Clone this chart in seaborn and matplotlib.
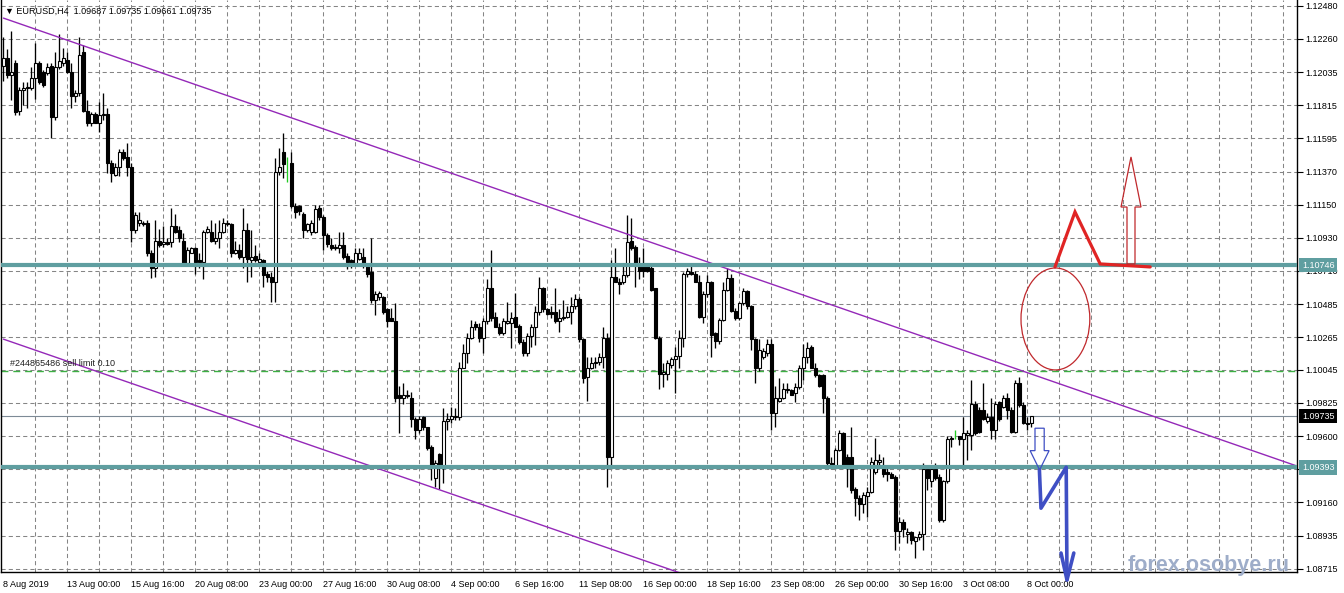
import numpy as np
import pandas as pd
import matplotlib
matplotlib.use('Agg')
import matplotlib.pyplot as plt
import matplotlib.transforms as mtransforms
from matplotlib.patches import Ellipse, FancyArrow
import seaborn as sns

sns.set_style('white')
plt.rcParams['font.family'] = ['Liberation Sans', 'DejaVu Sans']
plt.rcParams['lines.scale_dashes'] = False

# ── DATA: EURUSD H4 candles (bar 0 = 8 Aug 2019) ───────────────────────────
opens = [
    1.1208, 1.1213, 1.1202, 1.1210, 1.1178, 1.1192, 1.1193, 1.1193, 1.1200, 1.1210,
    1.1204, 1.1203, 1.1208, 1.1174, 1.1207, 1.1210, 1.1212, 1.1204, 1.1188, 1.1190,
    1.1217, 1.1178, 1.1170, 1.1176, 1.1170, 1.1175, 1.1176, 1.1143, 1.1135, 1.1140,
    1.1150, 1.1147, 1.1140, 1.1098, 1.1103, 1.1103, 1.1103, 1.1083, 1.1073, 1.1091,
    1.1089, 1.1090, 1.1090, 1.1101, 1.1098, 1.1091, 1.1076, 1.1083, 1.1086, 1.1078,
    1.1077, 1.1097, 1.1097, 1.1091, 1.1093, 1.1097, 1.1102, 1.1102, 1.1083, 1.1085,
    1.1080, 1.1098, 1.1078, 1.1081, 1.1077, 1.1078, 1.1069, 1.1067, 1.1063, 1.1137,
    1.1150, 1.1143, 1.1143, 1.1114, 1.1114, 1.1109, 1.1098, 1.1097, 1.1097, 1.1113,
    1.1107, 1.1095, 1.1088, 1.1087, 1.1086, 1.1088, 1.1081, 1.1078, 1.1076, 1.1079,
    1.1080, 1.1075, 1.1070, 1.1051, 1.1053, 1.1053, 1.1045, 1.1039, 1.1037, 1.0988,
    1.0986, 1.0987, 1.0986, 1.0972, 1.0964, 1.0973, 1.0966, 1.0953, 1.0932, 1.0948,
    1.0940, 1.0970, 1.0972, 1.0973, 1.0973, 1.1006, 1.1016, 1.1026, 1.1035, 1.1033,
    1.1026, 1.1037, 1.1059, 1.1040, 1.1033, 1.1029, 1.1036, 1.1036, 1.1040, 1.1034,
    1.1023, 1.1016, 1.1027, 1.1033, 1.1043, 1.1059, 1.1045, 1.1043, 1.1043, 1.1037,
    1.1040, 1.1040, 1.1043, 1.1047, 1.1052, 1.1025, 1.1000, 1.1006, 1.1009, 1.1010,
    1.1013, 1.1026, 1.0946, 1.1067, 1.1063, 1.1063, 1.1068, 1.1091, 1.1087, 1.1075,
    1.1075, 1.1075, 1.1073, 1.1059, 1.1026, 1.1002, 1.1002, 1.1008, 1.1012, 1.1014,
    1.1026, 1.1069, 1.1070, 1.1069, 1.1063, 1.1040, 1.1055, 1.1063, 1.1029, 1.1024,
    1.1038, 1.1058, 1.1066, 1.1044, 1.1039, 1.1049, 1.1057, 1.1047, 1.1025, 1.1006,
    1.1013, 1.1016, 1.1022, 1.0976, 1.0984, 1.0986, 1.0991, 1.0991, 1.0989, 1.0993,
    1.1006, 1.1013, 1.1020, 1.1006, 1.1001, 1.1001, 1.0986, 1.0942, 1.0940, 1.0951,
    1.0962, 1.0946, 1.0946, 1.0925, 1.0919, 1.0915, 1.0920, 1.0923, 1.0936, 1.0943,
    1.0938, 1.0936, 1.0935, 1.0933, 1.0897, 1.0903, 1.0895, 1.0896, 1.0890, 1.0893,
    1.0895, 1.0938, 1.0930, 1.0938, 1.0933, 1.0904, 1.0930, 1.0958, 1.0960, 1.0960,
    1.0958, 1.0961, 1.0961, 1.0982, 1.0978, 1.0978, 1.0970, 1.0973, 1.0964, 1.0983,
    1.0980, 1.0986, 1.0978, 1.0963, 1.0996, 1.0981, 1.0969, 1.09687,
]
highs = [
    1.1227, 1.1219, 1.1231, 1.1212, 1.1194, 1.1197, 1.1197, 1.1207, 1.1223, 1.1211,
    1.1205, 1.1210, 1.1210, 1.1217, 1.1229, 1.1220, 1.1217, 1.1210, 1.1192, 1.1227,
    1.1222, 1.1185, 1.1177, 1.1177, 1.1184, 1.1190, 1.1180, 1.1145, 1.1143, 1.1152,
    1.1152, 1.1156, 1.1143, 1.1110, 1.1110, 1.1104, 1.1105, 1.1085, 1.1105, 1.1099,
    1.1101, 1.1093, 1.1113, 1.1109, 1.1101, 1.1096, 1.1087, 1.1087, 1.1087, 1.1083,
    1.1098, 1.1101, 1.1105, 1.1103, 1.1105, 1.1106, 1.1105, 1.1103, 1.1091, 1.1089,
    1.1113, 1.1103, 1.1098, 1.1088, 1.1083, 1.1079, 1.1071, 1.1070, 1.1146, 1.1153,
    1.1163, 1.1147, 1.1150, 1.1116, 1.1115, 1.1110, 1.1103, 1.1105, 1.1115, 1.1115,
    1.1108, 1.1096, 1.1093, 1.1089, 1.1097, 1.1097, 1.1083, 1.1079, 1.1086, 1.1086,
    1.1086, 1.1076, 1.1093, 1.1057, 1.1057, 1.1054, 1.1046, 1.1046, 1.1049, 1.0994,
    1.0996, 1.0991, 1.0990, 1.0973, 1.0974, 1.0974, 1.0966, 1.0954, 1.0944, 1.0949,
    1.0979, 1.0976, 1.0980, 1.0979, 1.1010, 1.1022, 1.1029, 1.1038, 1.1037, 1.1036,
    1.1039, 1.1065, 1.1085, 1.1043, 1.1036, 1.1039, 1.1050, 1.1043, 1.1056, 1.1035,
    1.1025, 1.1029, 1.1035, 1.1047, 1.1067, 1.1060, 1.1046, 1.1047, 1.1059, 1.1045,
    1.1051, 1.1047, 1.1053, 1.1055, 1.1053, 1.1026, 1.1013, 1.1013, 1.1013, 1.1016,
    1.1033, 1.1029, 1.1078, 1.1086, 1.1066, 1.1075, 1.1108, 1.1106, 1.1088, 1.1080,
    1.1086, 1.1076, 1.1075, 1.1059, 1.1027, 1.1009, 1.1011, 1.1013, 1.1020, 1.1031,
    1.1070, 1.1073, 1.1075, 1.1071, 1.1068, 1.1057, 1.1068, 1.1064, 1.1030, 1.1039,
    1.1063, 1.1073, 1.1069, 1.1046, 1.1050, 1.1059, 1.1058, 1.1048, 1.1026, 1.1025,
    1.1019, 1.1025, 1.1025, 1.0994, 1.0999, 1.0996, 1.0996, 1.0992, 1.0996, 1.1008,
    1.1022, 1.1023, 1.1021, 1.1009, 1.1002, 1.1002, 1.0987, 1.0946, 1.0952, 1.0964,
    1.0963, 1.0948, 1.0966, 1.0926, 1.0921, 1.0923, 1.0926, 1.0946, 1.0959, 1.0948,
    1.0946, 1.0940, 1.0936, 1.0934, 1.0906, 1.0905, 1.0899, 1.0897, 1.0893, 1.0897,
    1.0942, 1.0940, 1.0941, 1.0942, 1.0935, 1.0931, 1.0960, 1.0960, 1.0964, 1.0960,
    1.0973, 1.0964, 1.0998, 1.0984, 1.0980, 1.0996, 1.0976, 1.0986, 1.0984, 1.0984,
    1.0988, 1.0989, 1.0980, 1.0998, 1.1000, 1.0983, 1.0973, 1.09735,
]
lows = [
    1.1198, 1.1200, 1.1185, 1.1175, 1.1175, 1.1182, 1.1180, 1.1192, 1.1186, 1.1196,
    1.1194, 1.1202, 1.1160, 1.1172, 1.1206, 1.1208, 1.1203, 1.1180, 1.1184, 1.1188,
    1.1177, 1.1168, 1.1168, 1.1170, 1.1164, 1.1172, 1.1136, 1.1130, 1.1134, 1.1134,
    1.1145, 1.1134, 1.1090, 1.1096, 1.1101, 1.1101, 1.1081, 1.1066, 1.1067, 1.1087,
    1.1087, 1.1088, 1.1087, 1.1096, 1.1090, 1.1075, 1.1075, 1.1083, 1.1069, 1.1073,
    1.1065, 1.1096, 1.1090, 1.1089, 1.1086, 1.1096, 1.1101, 1.1080, 1.1082, 1.1079,
    1.1073, 1.1063, 1.1067, 1.1077, 1.1077, 1.1060, 1.1063, 1.1050, 1.1050, 1.1135,
    1.1133, 1.1130, 1.1113, 1.1106, 1.1108, 1.1093, 1.1097, 1.1095, 1.1096, 1.1105,
    1.1085, 1.1087, 1.1085, 1.1085, 1.1083, 1.1079, 1.1072, 1.1073, 1.1075, 1.1078,
    1.1073, 1.1067, 1.1049, 1.1041, 1.1051, 1.1042, 1.1033, 1.1037, 1.0983, 1.0962,
    1.0982, 1.0986, 1.0966, 1.0958, 1.0962, 1.0964, 1.0951, 1.0931, 1.0926, 1.0925,
    1.0929, 1.0964, 1.0969, 1.0971, 1.0971, 1.1006, 1.1009, 1.1025, 1.1031, 1.1023,
    1.1016, 1.1035, 1.1037, 1.1033, 1.1028, 1.1028, 1.1035, 1.1019, 1.1033, 1.1022,
    1.1014, 1.1014, 1.1020, 1.1021, 1.1041, 1.1043, 1.1041, 1.1039, 1.1036, 1.1030,
    1.1038, 1.1039, 1.1035, 1.1045, 1.1023, 1.0996, 1.0984, 1.1005, 1.1006, 1.1008,
    1.1006, 1.0926, 1.0940, 1.1063, 1.1055, 1.1062, 1.1067, 1.1085, 1.1060, 1.1065,
    1.1067, 1.1070, 1.1057, 1.1025, 1.0992, 1.0993, 1.0998, 1.1006, 1.0989, 1.1006,
    1.1020, 1.1067, 1.1068, 1.1063, 1.1039, 1.1036, 1.1053, 1.1013, 1.1019, 1.1022,
    1.1037, 1.1057, 1.1043, 1.1038, 1.1038, 1.1048, 1.1045, 1.1018, 1.0996, 1.1004,
    1.1012, 1.1014, 1.0964, 1.0966, 1.0983, 1.0985, 1.0989, 1.0988, 1.0983, 1.0992,
    1.0998, 1.1009, 1.1006, 1.1000, 1.0993, 1.0976, 1.0940, 1.0938, 1.0939, 1.0950,
    1.0940, 1.0926, 1.0922, 1.0907, 1.0904, 1.0909, 1.0906, 1.0922, 1.0935, 1.0940,
    1.0933, 1.0930, 1.0932, 1.0884, 1.0889, 1.0893, 1.0889, 1.0888, 1.0879, 1.0891,
    1.0884, 1.0924, 1.0926, 1.0931, 1.0903, 1.0903, 1.0929, 1.0953, 1.0958, 1.0954,
    1.0940, 1.0944, 1.0951, 1.0961, 1.0962, 1.0971, 1.0969, 1.0958, 1.0958, 1.0970,
    1.0979, 1.0972, 1.0962, 1.0962, 1.0980, 1.0968, 1.0964, 1.09661,
]
closes = [
    1.1213, 1.1202, 1.1204, 1.1177, 1.1192, 1.1193, 1.1194, 1.1200, 1.1210, 1.1197,
    1.1195, 1.1207, 1.1174, 1.1207, 1.1211, 1.1213, 1.1204, 1.1188, 1.1190, 1.1215,
    1.1178, 1.1170, 1.1176, 1.1170, 1.1175, 1.1176, 1.1143, 1.1136, 1.1140, 1.1150,
    1.1146, 1.1140, 1.1098, 1.1108, 1.1105, 1.1102, 1.1083, 1.1073, 1.1091, 1.1088,
    1.1090, 1.1089, 1.1101, 1.1097, 1.1093, 1.1076, 1.1085, 1.1086, 1.1077, 1.1077,
    1.1097, 1.1099, 1.1091, 1.1093, 1.1097, 1.1103, 1.1103, 1.1083, 1.1085, 1.1080,
    1.1098, 1.1079, 1.1080, 1.1078, 1.1079, 1.1068, 1.1067, 1.1063, 1.1137, 1.1140,
    1.1142, 1.1143, 1.1114, 1.1110, 1.1111, 1.1098, 1.1102, 1.1103, 1.1112, 1.1107,
    1.1095, 1.1089, 1.1086, 1.1086, 1.1088, 1.1080, 1.1077, 1.1076, 1.1083, 1.1083,
    1.1075, 1.1069, 1.1051, 1.1055, 1.1056, 1.1043, 1.1037, 1.1037, 1.0986, 1.0986,
    1.0988, 1.0988, 1.0972, 1.0964, 1.0972, 1.0966, 1.0952, 1.0940, 1.0942, 1.0940,
    1.0970, 1.0972, 1.0974, 1.0974, 1.1006, 1.1016, 1.1026, 1.1033, 1.1033, 1.1026,
    1.1037, 1.1059, 1.1039, 1.1033, 1.1029, 1.1037, 1.1037, 1.1039, 1.1033, 1.1023,
    1.1016, 1.1027, 1.1033, 1.1043, 1.1059, 1.1045, 1.1042, 1.1042, 1.1037, 1.1039,
    1.1039, 1.1043, 1.1047, 1.1052, 1.1025, 1.0999, 1.1006, 1.1009, 1.1010, 1.1013,
    1.1026, 1.0946, 1.1067, 1.1063, 1.1062, 1.1068, 1.1090, 1.1086, 1.1075, 1.1071,
    1.1071, 1.1071, 1.1058, 1.1026, 1.1002, 1.1003, 1.1009, 1.1012, 1.1014, 1.1026,
    1.1069, 1.1071, 1.1069, 1.1063, 1.1040, 1.1055, 1.1063, 1.1028, 1.1024, 1.1038,
    1.1058, 1.1066, 1.1044, 1.1039, 1.1049, 1.1057, 1.1047, 1.1025, 1.1006, 1.1018,
    1.1017, 1.1022, 1.0976, 1.0986, 1.0986, 1.0992, 1.0992, 1.0988, 1.0993, 1.1006,
    1.1013, 1.1019, 1.1006, 1.1001, 1.0994, 1.0986, 1.0942, 1.0941, 1.0951, 1.0962,
    1.0941, 1.0940, 1.0924, 1.0919, 1.0915, 1.0921, 1.0923, 1.0943, 1.0944, 1.0944,
    1.0935, 1.0935, 1.0932, 1.0897, 1.0903, 1.0898, 1.0896, 1.0891, 1.0893, 1.0895,
    1.0938, 1.0932, 1.0938, 1.0932, 1.0904, 1.0930, 1.0958, 1.0959, 1.0960, 1.0958,
    1.0962, 1.0962, 1.0982, 1.0962, 1.0963, 1.0972, 1.0973, 1.0964, 1.0982, 1.0972,
    1.0986, 1.0978, 1.0963, 1.0996, 1.0981, 1.0969, 1.0968, 1.09735,
]

date_labels = ['8 Aug 2019', '13 Aug 00:00', '15 Aug 16:00', '20 Aug 08:00', '23 Aug 00:00',
               '27 Aug 16:00', '30 Aug 08:00', '4 Sep 00:00', '6 Sep 16:00', '11 Sep 08:00',
               '16 Sep 00:00', '18 Sep 16:00', '23 Sep 08:00', '26 Sep 00:00', '30 Sep 16:00',
               '3 Oct 08:00', '8 Oct 00:00']
price_ticks = [1.12480, 1.12260, 1.12035, 1.11815, 1.11595, 1.11370, 1.11150, 1.10930, 1.10710,
               1.10485, 1.10265, 1.10045, 1.09825, 1.09600, 1.09380, 1.09160, 1.08935, 1.08715]
hidden_ticks = [1.09380]   # covered by the support-level box on the price scale

# chart objects (bar index, price)
resist_level = 1.10746
support_level = 1.09393
bid_price = 1.09735
sell_limit = 1.10040
chan_upper_bars, chan_upper_px = [0, 325], [1.12399, 1.09387]
chan_lower_bars, chan_lower_px = [0, 325], [1.10251, 1.07246]
red_zz_bars, red_zz_px = [262.9, 267.9, 274.2, 286.7], [1.10734, 1.11102, 1.10754, 1.10734]
blue_zz_bars, blue_zz_px = [259.0, 259.4, 265.7, 265.9], [1.09376, 1.09120, 1.09394, 1.08640]
blue_head_bars, blue_head_px = [264.4, 265.9, 267.6], [1.08820, 1.08640, 1.08820]

df = pd.DataFrame({'open': opens, 'high': highs, 'low': lows, 'close': closes})
df['bar'] = np.arange(len(df))

# ── FIGURE ──────────────────────────────────────────────────────────────────
fig = plt.figure(figsize=(13.44, 5.93), dpi=100)
fig.patch.set_facecolor('white')
ax = fig.add_axes([1/1344, 21/593, 1296/1344, 572/593])
ax.set_facecolor('white')
ax.set_xlim(-0.6, 323.4)
ax.set_ylim(1.08693, 1.12520)

GRID = '#858585'
for b in range(8, 324, 8):
    ax.axvline(b, color=GRID, lw=0.75, ls=(0, (3.0, 2.2)), zorder=0)
for p in price_ticks:
    ax.axhline(p, color=GRID, lw=0.75, ls=(0, (3.0, 2.2)), zorder=0)

# candles
up = df['close'] > df['open']
doji = df['close'] == df['open']
wick_lo = df[['low', 'open', 'close']].min(axis=1)
wick_hi = df[['high', 'open', 'close']].max(axis=1)
ax.vlines(df['bar'][~doji], wick_lo[~doji], wick_hi[~doji], color='black', lw=0.95, zorder=2)
ax.vlines(df['bar'][doji], wick_lo[doji], wick_hi[doji], color='#22cc22', lw=0.95, zorder=2)
body_lo = df[['open', 'close']].min(axis=1)
body_h = (df['close'] - df['open']).abs()
nd = ~doji
ax.bar(df['bar'][nd], body_h[nd], bottom=body_lo[nd], width=0.58,
       color=np.where(up[nd], 'white', 'black'), edgecolor='black', lw=0.8, zorder=3)

# channel (seaborn lines)
sns.lineplot(x=chan_upper_bars, y=chan_upper_px, ax=ax, color='#9428b8', lw=1, zorder=4)
sns.lineplot(x=chan_lower_bars, y=chan_lower_px, ax=ax, color='#9428b8', lw=1, zorder=4)

# levels
TEAL = '#5f9ea0'
ax.axhline(resist_level, color=TEAL, lw=3.0, zorder=5)
ax.axhline(support_level, color=TEAL, lw=3.0, zorder=5)
ax.axhline(bid_price, color='#7d8a96', lw=0.8, zorder=1)
ax.axhline(sell_limit, color='#3cb043', lw=1.0, ls=(0, (5, 3.5)), zorder=1)
ax.text(1.7, sell_limit, '#244865486 sell limit 0.10', fontsize=6.5, color='#222222',
        va='bottom', ha='left', zorder=6,
        transform=ax.transData + mtransforms.ScaledTranslation(0, 2/72, fig.dpi_scale_trans))

# red scenario
RED = '#e02424'
ax.plot(red_zz_bars, red_zz_px, color=RED, lw=2.3, solid_joinstyle='miter', zorder=6)
ax.add_patch(Ellipse((263.0, 1.10386), 17.2, 0.00682, fill=False, ec='#c0282c', lw=0.9, zorder=6))
ax.add_patch(FancyArrow(281.9, 1.10754, 0, 0.00716, width=2.0, head_width=5.0, head_length=0.00335,
                        length_includes_head=True, fill=False, ec='#c0282c', lw=0.9, zorder=6))

# blue scenario
BLUE = '#3f4fc4'
ax.add_patch(FancyArrow(259.05, 1.09655, 0, -0.00279, width=2.3, head_width=4.75, head_length=0.00129,
                        length_includes_head=True, fill=False, ec=BLUE, lw=0.9, zorder=6))
ax.plot(blue_zz_bars, blue_zz_px, color=BLUE, lw=2.6, zorder=6, clip_on=False)
ax.plot(blue_head_bars, blue_head_px, color=BLUE, lw=2.6, zorder=6, clip_on=False)

# axes
ax.spines['top'].set_visible(False)
for s in ['left', 'right', 'bottom']:
    ax.spines[s].set_color('black')
    ax.spines[s].set_linewidth(1.0)
ax.yaxis.tick_right()
ax.set_yticks(price_ticks)
ax.set_yticklabels(['' if p in hidden_ticks else f'{p:.5f}' for p in price_ticks])
ax.set_xticks(np.arange(0, 16 * len(date_labels), 16))
ax.set_xticklabels(date_labels, ha='left')
ax.tick_params(axis='y', which='both', direction='out', length=4, width=0.8, pad=2,
               labelsize=6.5, colors='black', left=False, right=True)
ax.tick_params(axis='x', direction='out', length=4, width=0.8, pad=2, labelsize=6.5, colors='black')
ax.set_xlabel('')
ax.set_ylabel('')

# price boxes on the scale
blend = mtransforms.blended_transform_factory(ax.transAxes, ax.transData)
for p, bg in [(resist_level, TEAL), (support_level, TEAL), (bid_price, 'black')]:
    ax.text(1 + 5/1296, p, f'{p:.5f}', transform=blend, ha='left', va='center', fontsize=6.5,
            color='white', zorder=10, clip_on=False,
            bbox=dict(boxstyle='square,pad=0.3', fc=bg, ec='none'))

fig.text(5/1344, 1 - 11/593, '▼ EURUSD,H4  1.09687 1.09735 1.09661 1.09735', fontsize=6.5,
         ha='left', va='center', color='black')
fig.text(1209/1344, 1 - 566/593, 'forex.osobye.ru', fontsize=15.5, fontweight='bold',
         color='#9eadc9', ha='center', va='center', zorder=20)

fig.savefig('out.png', dpi=100, facecolor='white')
